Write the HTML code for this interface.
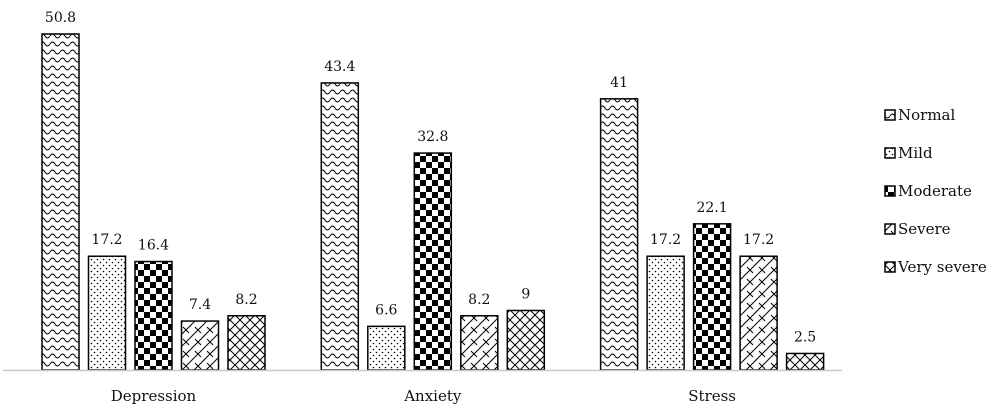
<!DOCTYPE html>
<html><head><meta charset="utf-8"><style>
body{margin:0;background:#fff}
svg{display:block;font-family:"DejaVu Serif","Liberation Serif",serif}
</style></head><body>
<svg width="1000" height="415">
<defs>
<pattern id="p0" width="10" height="8" patternUnits="userSpaceOnUse"><rect width="10" height="8" fill="#fff"/><path d="M0 4 Q2.5 0 5 4 T10 4" fill="none" stroke="#000" stroke-width="1"/></pattern>
<pattern id="p1" width="6" height="6" patternUnits="userSpaceOnUse"><rect width="6" height="6" fill="#fff"/><circle cx="1.5" cy="1.5" r="0.8" fill="#000"/><circle cx="4.5" cy="4.5" r="0.8" fill="#000"/></pattern>
<pattern id="p2" width="12" height="12" patternUnits="userSpaceOnUse"><rect width="12" height="12" fill="#fff"/><rect width="6" height="6" fill="#000"/><rect x="6" y="6" width="6" height="6" fill="#000"/></pattern>
<pattern id="p3" width="12" height="12" patternUnits="userSpaceOnUse"><rect width="12" height="12" fill="#fff"/><path d="M0 12 L12 0 M-3 3 L3 -3 M9 15 L15 9 M3 3 L9 9" fill="none" stroke="#000" stroke-width="1"/></pattern>
<pattern id="p4" width="10" height="10" patternUnits="userSpaceOnUse"><rect width="10" height="10" fill="#fff"/><path d="M0 0 L10 10 M10 0 L0 10" fill="none" stroke="#000" stroke-width="1"/></pattern>
</defs>
<g id="bars"></g>
<line x1="3" y1="370.5" x2="842" y2="370.5" stroke="#c8c8c8" stroke-width="1.5"/>
<g id="labels"></g>
<g id="legend"></g>
</svg>
<script>
const categories=["Depression","Anxiety","Stress"];
const seriesNames=["Normal","Mild","Moderate","Severe","Very severe"];
const normal=[50.8,43.4,41];
const mild=[17.2,6.6,17.2];
const moderate=[16.4,32.8,22.1];
const severe=[7.4,8.2,17.2];
const verySevere=[8.2,9,2.5];
const series=[normal,mild,moderate,severe,verySevere];
const NS="http://www.w3.org/2000/svg";
const y0=370,scale=336/50.8,catW=279.3,x0=3.5,barW=37,step=46.5,off=38.5;
const yPos=v=>y0-v*scale;
const xPos=(c,s)=>x0+c*catW+off+s*step;
const gb=document.getElementById('bars'),gl=document.getElementById('labels'),gg=document.getElementById('legend');
function mk(tag,attrs,parent){const e=document.createElementNS(NS,tag);for(const k in attrs)e.setAttribute(k,attrs[k]);parent.appendChild(e);return e;}
categories.forEach((c,ci)=>{
 series.forEach((arr,si)=>{
  const v=arr[ci];
  const r=mk('rect',{x:xPos(ci,si),y:yPos(v),width:barW,height:v*scale,fill:`url(#p${si})`,stroke:'#000','stroke-width':1.5},gb);
  
  
  const t=mk('text',{x:xPos(ci,si)+barW/2,y:yPos(v)-12,'text-anchor':'middle','font-size':14,fill:'#111'},gl);
  t.textContent=String(v);
  
  
 });
 const t=mk('text',{x:x0+ci*catW+off+(4*step+barW)/2,y:401,'text-anchor':'middle','font-size':15,fill:'#111'},gl);
 t.textContent=c;
 
 
});
seriesNames.forEach((n,i)=>{
 const y=115+i*38;
 const r=mk('rect',{x:885,y:y-5,width:10,height:10,fill:`url(#p${i})`,stroke:'#000','stroke-width':1.5},gg);
 
 
 const t=mk('text',{x:898,y:y+5,'font-size':15,fill:'#111'},gg);
 t.textContent=n;
 
 
});
</script>
</body></html>
